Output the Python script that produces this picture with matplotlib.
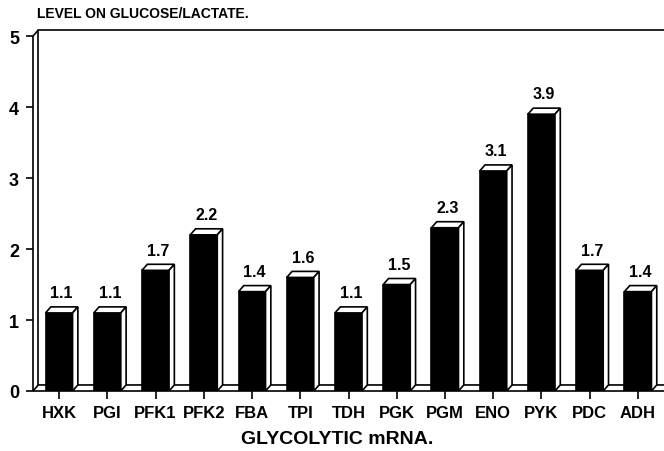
import matplotlib
matplotlib.use("Agg")
import matplotlib.pyplot as plt

plt.rcParams['font.family'] = ['Liberation Sans', 'DejaVu Sans']

genes = ['HXK', 'PGI', 'PFK1', 'PFK2', 'FBA', 'TPI', 'TDH',
         'PGK', 'PGM', 'ENO', 'PYK', 'PDC', 'ADH']
ratios = [1.1, 1.1, 1.7, 2.2, 1.4, 1.6, 1.1, 1.5, 2.3, 3.1, 3.9, 1.7, 1.4]
value_labels = ['1.1', '1.1', '1.7', '2.2', '1.4', '1.6', '1.1',
                '1.5', '2.3', '3.1', '3.9', '1.7', '1.4']
yticks = [0, 1, 2, 3, 4, 5]

# pseudo-3D depth (data units)
DX = 0.11
DY = 0.085
W = 0.56
X0, X1 = -0.54, 12.54
YTOP = 5.0

fig = plt.figure(figsize=(6.64, 4.52), dpi=100)
ax = fig.add_axes([33 / 664, 60 / 452, 631 / 664, 362 / 452])
ax.set_xlim(X0, X1)
ax.set_ylim(0, 5.1)
for s in ax.spines.values():
    s.set_visible(False)

lw = 1.2
kw = dict(color='black', lw=lw, clip_on=False, solid_capstyle='butt')
# front left edge and back wall
ax.plot([X0, X0, X0 + DX], [0, YTOP, YTOP + DY], **kw)
ax.plot([X0 + DX, X0 + DX, X1], [DY, YTOP + DY, YTOP + DY], **kw)
# floor
ax.plot([X0, X1], [0, 0], **kw)
ax.plot([X0, X0 + DX, X1], [0, DY, DY], **kw)

xs = list(range(len(genes)))
ax.bar(xs, ratios, width=W, color='black', edgecolor='black', lw=lw, zorder=3)
for x, v, lab in zip(xs, ratios, value_labels):
    l, r = x - W / 2, x + W / 2
    ax.fill([l, l + DX, r + DX, r], [v, v + DY, v + DY, v],
            facecolor='white', edgecolor='black', lw=lw, zorder=4)
    ax.fill([r, r, r + DX, r + DX], [0, v, v + DY, DY],
            facecolor='white', edgecolor='black', lw=lw, zorder=4)
    ax.text(x + DX / 2, v + 0.18, lab, ha='center', va='bottom',
            fontsize=11.5, fontweight='bold')

ax.set_xticks(xs)
ax.set_xticklabels(genes, fontsize=12, fontweight='bold')
ax.set_yticks(yticks)
ax.set_yticklabels([str(t) for t in yticks], fontsize=13, fontweight='bold')
ax.tick_params(axis='x', direction='out', length=6, width=lw, pad=4)
ax.tick_params(axis='y', direction='out', length=5, width=lw, pad=5)

fig.text(37 / 664, 1 - 14 / 452, 'LEVEL ON GLUCOSE/LACTATE.', fontsize=10,
         fontweight='bold', ha='left', va='center')
fig.text(337 / 664, 1 - 440 / 452, 'GLYCOLYTIC mRNA.', fontsize=14,
         fontweight='bold', ha='center', va='center')

fig.savefig('out.png', dpi=100)
